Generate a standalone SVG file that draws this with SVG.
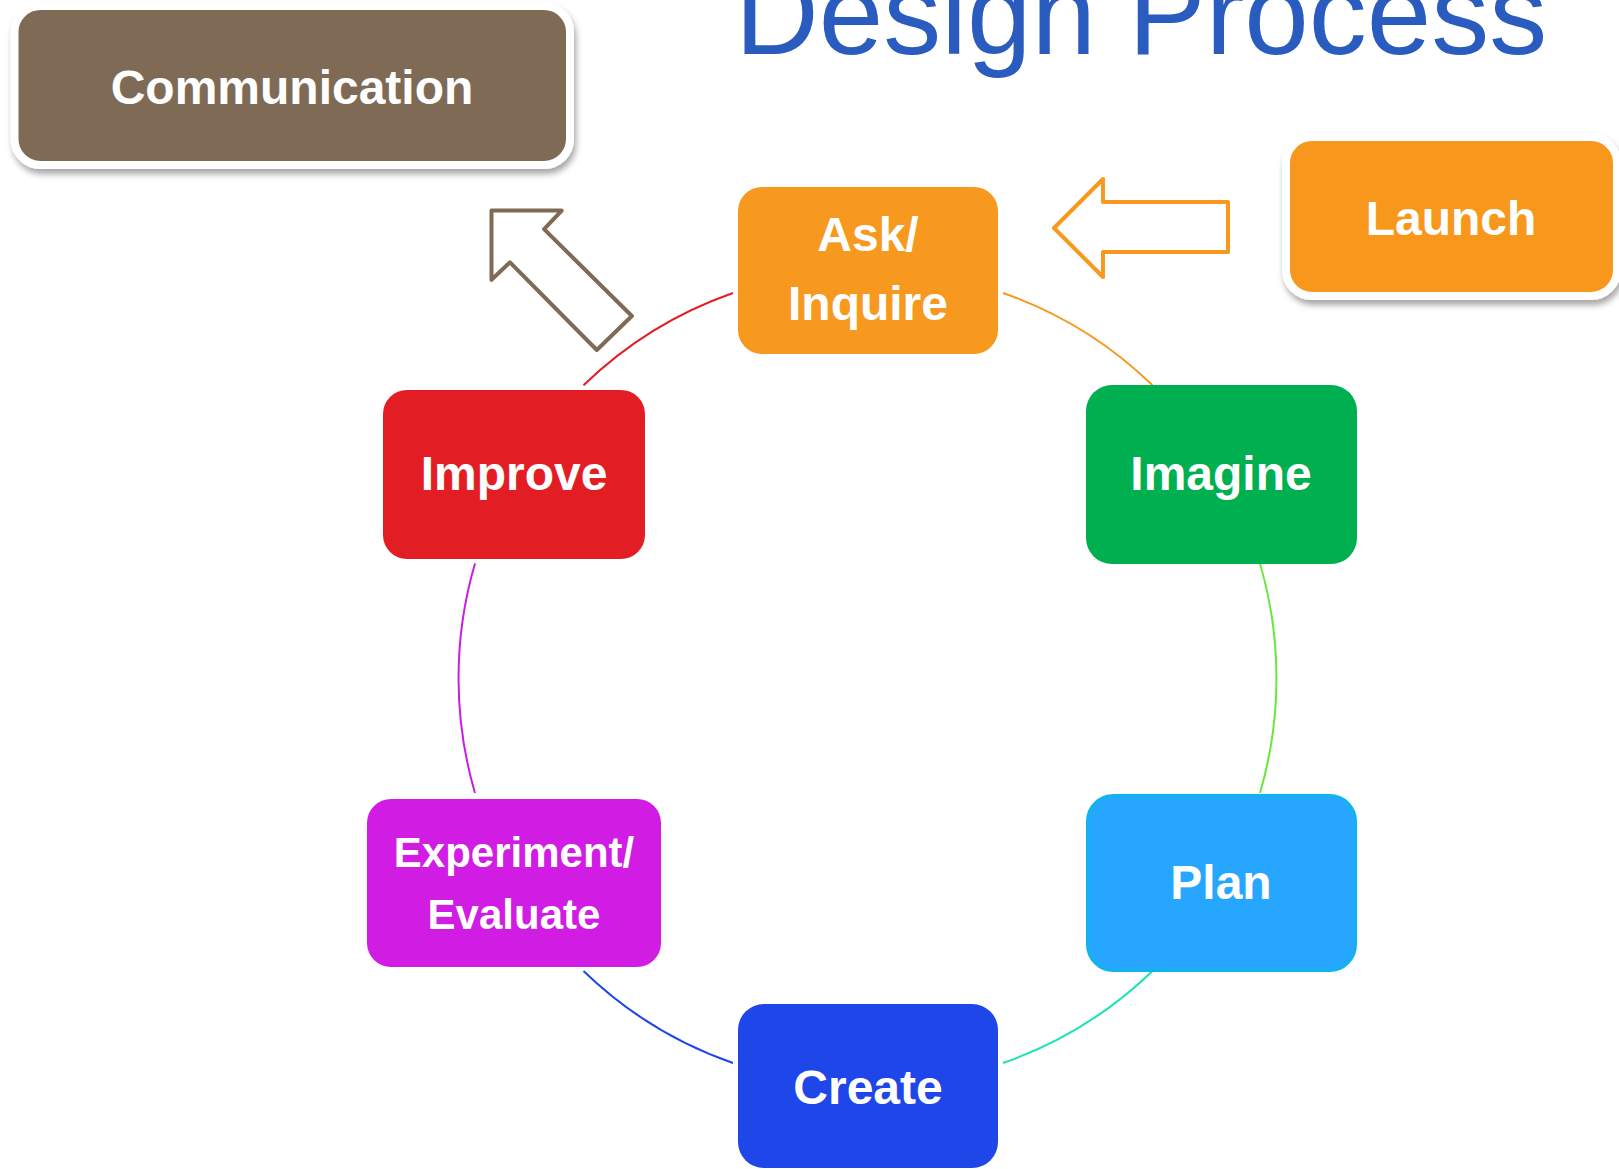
<svg xmlns="http://www.w3.org/2000/svg" width="1619" height="1169" viewBox="0 0 1619 1169">
<style>
.lbl{font-family:"Liberation Sans",Arial,sans-serif;font-weight:bold;fill:#fff;text-anchor:middle;font-size:48px}
.sm{font-size:42px}
.arc{fill:none;stroke-width:2}
.outl{fill:none;stroke-width:4;stroke-linejoin:round}
</style>
<defs>
<filter id="sh" x="-10%" y="-10%" width="120%" height="130%">
<feDropShadow dx="2" dy="5" stdDeviation="3" flood-color="#000" flood-opacity="0.35"/>
</filter>
</defs>
<rect width="1619" height="1169" fill="#fff"/>
<text x="735" y="54" font-family="'Liberation Sans',Arial,sans-serif" font-size="116" fill="#2A5BBF">Design Process</text>
<g id="connectors">
<path class="arc" stroke="#E31D24" d="M583.5,385.3 A408,408 0 0 1 733,293"/>
<path class="arc" stroke="#F7981F" d="M1003,293 A408,408 0 0 1 1152.5,385.3"/>
<path class="arc" stroke="#66E83A" d="M1260,563.5 A408,408 0 0 1 1260,793"/>
<path class="arc" stroke="#19E3B2" d="M1152.5,971 A408,408 0 0 1 1003,1063"/>
<path class="arc" stroke="#1E46E9" d="M733,1063 A408,408 0 0 1 583.5,971"/>
<path class="arc" stroke="#C81DE3" d="M475,793 A408,408 0 0 1 475,563.5"/>
<polygon id="comm-arrow" class="outl" stroke="#7F6B55" points="491.5,210.6 561.7,210.6 544.1,229.2 631.9,316 596.8,350 510,262.3 491.5,279.8"/>
<polygon id="launch-arrow" class="outl" stroke="#F7981F" points="1054,228 1103,179 1103,202 1228,202 1228,252 1103,252 1103,277"/>
</g>
<g id="communication">
<rect x="14.5" y="6" width="555.5" height="159" rx="26" fill="#7F6B55" stroke="#fff" stroke-width="8" filter="url(#sh)"/>
<text class="lbl" x="292" y="104">Communication</text>
</g>
<g id="launch">
<rect x="1286" y="137" width="331" height="159" rx="26" fill="#F7981F" stroke="#fff" stroke-width="8" filter="url(#sh)"/>
<text class="lbl" x="1451" y="235">Launch</text>
</g>
<g id="ask">
<rect x="738" y="187" width="260" height="167" rx="24" fill="#F7981F"/>
<text class="lbl" x="868" y="251">Ask/</text>
<text class="lbl" x="868" y="320">Inquire</text>
</g>
<g id="imagine">
<rect x="1086" y="385" width="271" height="179" rx="26" fill="#00AF50"/>
<text class="lbl" x="1221" y="490">Imagine</text>
</g>
<g id="plan">
<rect x="1087.5" y="795.5" width="268" height="175" rx="26" fill="#27A6FF" stroke="#10B4EC" stroke-width="3"/>
<text class="lbl" x="1221" y="899">Plan</text>
</g>
<g id="create">
<rect x="738" y="1004" width="260" height="164" rx="26" fill="#1E46E9"/>
<text class="lbl" x="868" y="1104">Create</text>
</g>
<g id="experiment">
<rect x="367" y="799" width="294" height="168" rx="24" fill="#D01CE3"/>
<text class="lbl sm" x="514" y="867">Experiment/</text>
<text class="lbl sm" x="514" y="929">Evaluate</text>
</g>
<g id="improve">
<rect x="383" y="390" width="262" height="169" rx="24" fill="#E31D24"/>
<text class="lbl" x="514" y="490">Improve</text>
</g>
</svg>
